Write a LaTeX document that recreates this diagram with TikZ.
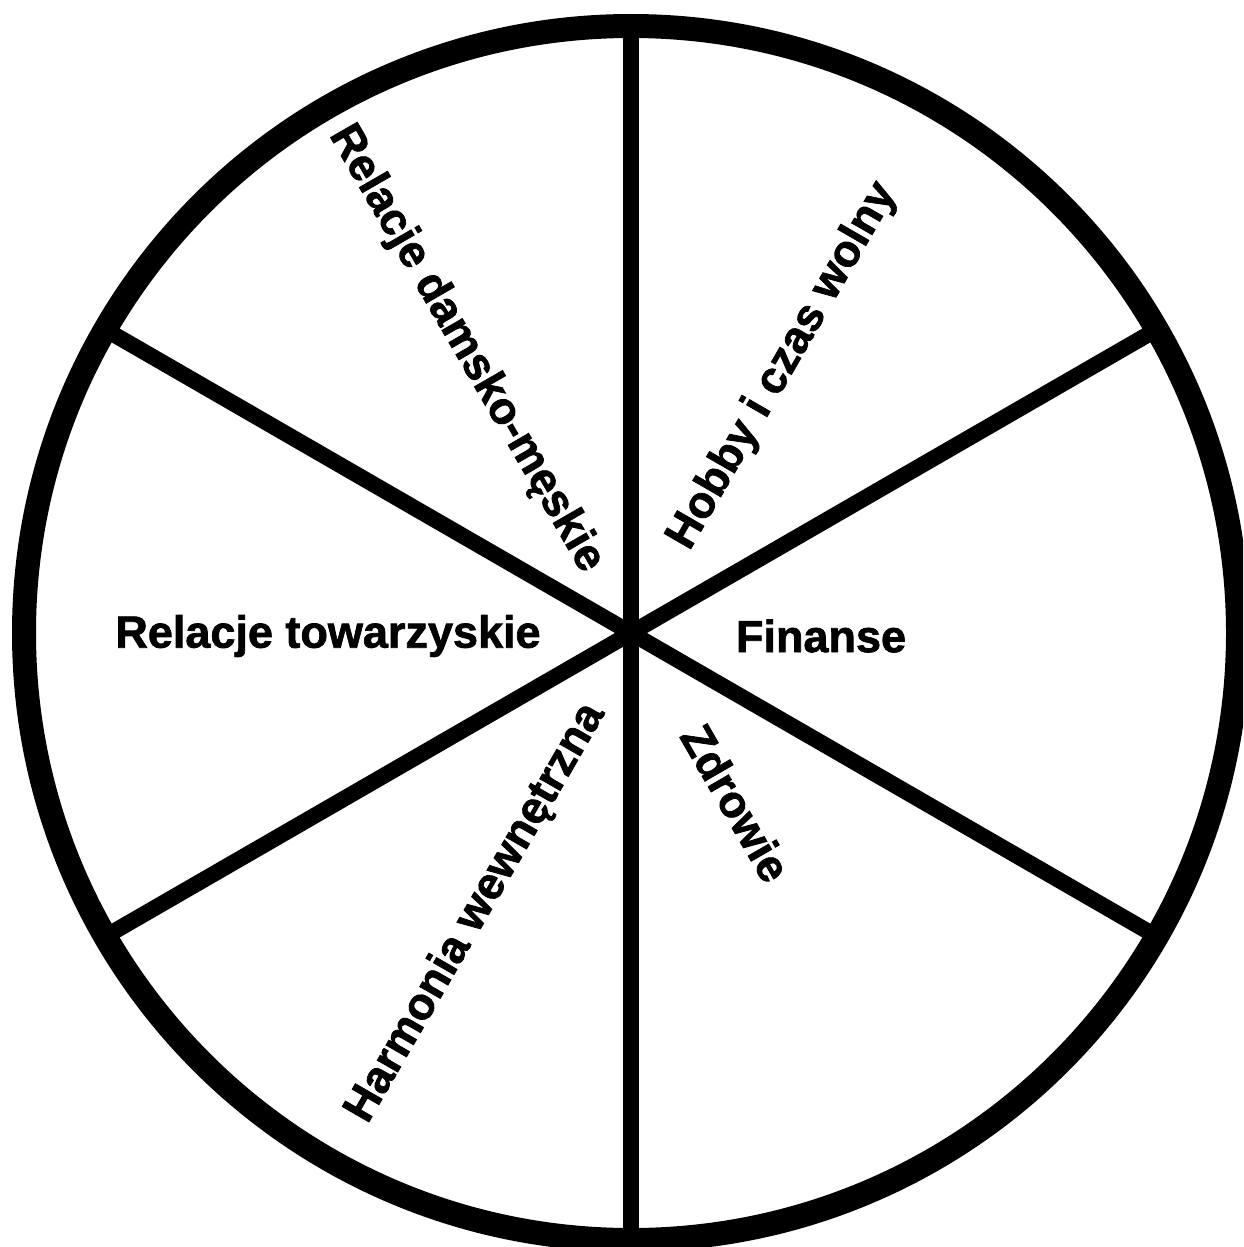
\documentclass[tikz,border=0pt]{standalone}
\usepackage{fontspec}
\usetikzlibrary{calc}
\setmainfont{Liberation Sans}
\newfontfamily\heavyfont{Liberation Sans}[UprightFont=* Bold, FakeBold=1.6]
\begin{document}
\begin{tikzpicture}[x=1pt,y=-1pt,
  ring/.style={line width=24pt},
  spoke/.style={line width=16pt},
  lbl/.style={font=\heavyfont\fontsize{45}{50}\selectfont, inner sep=0pt}]
\useasboundingbox (0,0) rectangle (1243,1247);
\clip (0,0) rectangle (1243,1247);
\fill[white] (0,0) rectangle (1243,1247);
\coordinate (c) at (631,633);
\foreach \a/\n in {90/a,30/b,150/d,270/e,210/f,330/g}{
  \coordinate (\n) at ($(c)+({607*cos(\a)},{-607*sin(\a)})$);
}
\draw[spoke] (a) -- (e);
\draw[spoke] (b) -- (f);
\draw[spoke] (d) -- (g);
\draw[ring] (c) circle[radius=607];
\node[lbl] (rt) at (328,636) {Relacje towarzyskie};
\node[lbl] (fi) at (821,636) {Finanse};
\node[lbl, rotate=-60] (rd) at (466,349) {Relacje damsko-męskie};
\node[lbl, rotate=60] (hb) at (783,366) {Hobby i czas wolny};
\node[lbl, rotate=-60] (zd) at (736,803) {Zdrowie};
\node[lbl, rotate=60] (hw) at (476,913) {Harmonia wewnętrzna};
\end{tikzpicture}
\end{document}
